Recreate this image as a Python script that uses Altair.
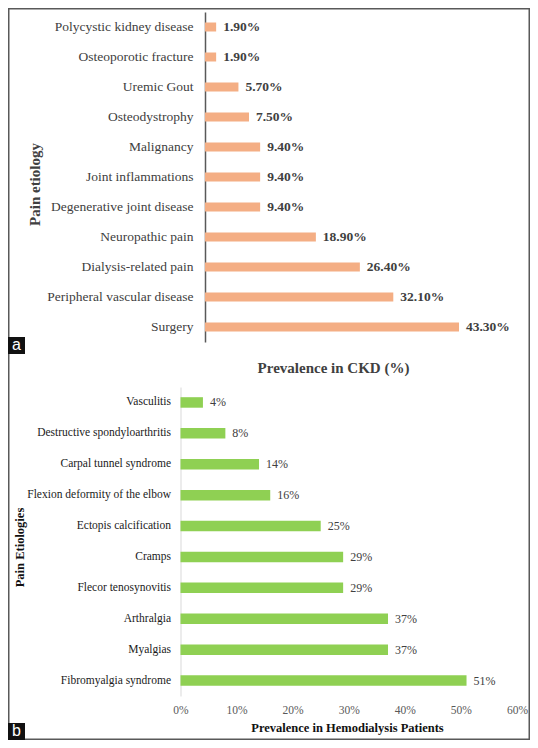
import altair as alt
import pandas as pd

# ---- data ----
ckd_causes = [
    "Polycystic kidney disease", "Osteoporotic fracture", "Uremic Gout",
    "Osteodystrophy", "Malignancy", "Joint inflammations",
    "Degenerative joint disease", "Neuropathic pain", "Dialysis-related pain",
    "Peripheral vascular disease", "Surgery",
]
ckd_values = [1.9, 1.9, 5.7, 7.5, 9.4, 9.4, 9.4, 18.9, 26.4, 32.1, 43.3]

hd_causes = [
    "Vasculitis", "Destructive spondyloarthritis", "Carpal tunnel syndrome",
    "Flexion deformity of the elbow", "Ectopis calcification", "Cramps",
    "Flecor tenosynovitis", "Arthralgia", "Myalgias", "Fibromyalgia syndrome",
]
hd_values = [4, 8, 14, 16, 25, 29, 29, 37, 37, 51]
hd_ticks = [0, 10, 20, 30, 40, 50, 60]

panel_tags = ["a", "b"]

top_df = pd.DataFrame({"cause": ckd_causes, "value": ckd_values,
                       "label": [f"{v:.2f}%" for v in ckd_values]})
bot_df = pd.DataFrame({"cause": hd_causes, "value": hd_values,
                       "label": [f"{v:.0f}%" for v in hd_values]})

W, H = 522, 732
SERIF = "Liberation Serif"
SANS = "Liberation Sans"

# ---- top panel ----
def top_x():
    return alt.Scale(domain=[0, 50], range=[197, 490.3], nice=False, zero=True)

def top_y():
    return alt.Scale(domain=ckd_causes, range=[4, 334], paddingInner=0.7, paddingOuter=0.35)

top_bars = alt.Chart(top_df).mark_bar(color="#F4AE84").encode(
    x=alt.X("value:Q", scale=top_x(),
            axis=alt.Axis(orient="top", domain=False, ticks=False, labels=False, grid=False,
                          title="Prevalence in CKD (%)", titleX=325, titleY=359,
                          titleAlign="center", titleBaseline="middle", titleAngle=0,
                          titleFont=SERIF, titleFontSize=15, titleFontWeight="bold",
                          titleColor="#404040")),
    y=alt.Y("cause:N", scale=top_y(), sort=ckd_causes,
            axis=alt.Axis(orient="left", offset=-197, domain=True, domainColor="#595959",
                          domainWidth=1.5, ticks=False, tickSize=0, grid=False,
                          labelPadding=12, labelFont=SERIF, labelFontSize=13.5,
                          labelColor="#404040", labelLimit=300,
                          title="Pain etiology", titleX=-171, titleY=176, titleAngle=270,
                          titleAlign="center", titleBaseline="middle",
                          titleFont=SERIF, titleFontSize=15, titleFontWeight="bold",
                          titleColor="#404040")),
)
top_text = alt.Chart(top_df).mark_text(
    align="left", baseline="middle", dx=7, font=SERIF, fontSize=13.5,
    fontWeight="bold", color="#404040"
).encode(
    x=alt.X("value:Q", scale=top_x(), axis=None),
    y=alt.Y("cause:N", scale=top_y(), sort=ckd_causes, axis=None),
    text="label:N",
)

# ---- bottom panel ----
def bot_x():
    return alt.Scale(domain=[0, 60], range=[172.5, 509], nice=False, zero=True)

def bot_y():
    return alt.Scale(domain=hd_causes, range=[379, 688], paddingInner=0.66, paddingOuter=0.33)

bot_bars = alt.Chart(bot_df).mark_bar(color="#8FD053").encode(
    x=alt.X("value:Q", scale=bot_x(),
            axis=alt.Axis(orient="bottom", offset=-44, values=hd_ticks,
                          labelExpr="datum.value + '%'", domain=False, ticks=False,
                          grid=False, labelFlush=False, labelPadding=8,
                          labelFont=SERIF, labelFontSize=11.5, labelColor="#595959",
                          title="Prevalence in Hemodialysis Patients", titleX=339, titleY=31,
                          titleAlign="center", titleBaseline="middle", titleAngle=0,
                          titleFont=SERIF, titleFontSize=12.5, titleFontWeight="bold",
                          titleColor="#111111")),
    y=alt.Y("cause:N", scale=bot_y(), sort=hd_causes,
            axis=alt.Axis(orient="left", offset=-172.5, domain=True, domainColor="#D9D9D9",
                          domainWidth=1, ticks=False, tickSize=0, grid=False,
                          labelPadding=10, labelFont=SERIF, labelFontSize=11.5,
                          labelColor="#1a1a1a", labelLimit=300,
                          title="Pain Etiologies", titleX=-161.5, titleY=539, titleAngle=270,
                          titleAlign="center", titleBaseline="middle",
                          titleFont=SERIF, titleFontSize=12.5, titleFontWeight="bold",
                          titleColor="#111111")),
)
bot_text = alt.Chart(bot_df).mark_text(
    align="left", baseline="middle", dx=7, font=SERIF, fontSize=12, color="#404040"
).encode(
    x=alt.X("value:Q", scale=bot_x(), axis=None),
    y=alt.Y("cause:N", scale=bot_y(), sort=hd_causes, axis=None),
    text="label:N",
)

# ---- panel tags "a" / "b" ----
tag_a_df = pd.DataFrame({"t": [panel_tags[0]]})
tag_b_df = pd.DataFrame({"t": [panel_tags[1]]})

tag_a_box = alt.Chart(tag_a_df).mark_rect(color="#111111").encode(
    x=alt.value(0), x2=alt.value(17), y=alt.value(329), y2=alt.value(346))
tag_a_txt = alt.Chart(tag_a_df).mark_text(color="white", font=SANS, fontSize=16,
                                          align="center", baseline="middle").encode(
    x=alt.value(8.5), y=alt.value(337), text="t:N")
tag_b_box = alt.Chart(tag_b_df).mark_rect(color="#111111").encode(
    x=alt.value(0), x2=alt.value(17), y=alt.value(715), y2=alt.value(732))
tag_b_txt = alt.Chart(tag_b_df).mark_text(color="white", font=SANS, fontSize=16,
                                          align="center", baseline="middle").encode(
    x=alt.value(8.5), y=alt.value(723), text="t:N")

chart = alt.layer(
    top_bars, top_text, bot_bars, bot_text, tag_a_box, tag_a_txt, tag_b_box, tag_b_txt
).resolve_scale(
    x="independent", y="independent"
).resolve_axis(
    x="independent", y="independent"
).properties(
    width=W, height=H, padding=0, background="white",
    autosize=alt.AutoSizeParams(type="none"),
).configure_view(
    stroke="#595959", strokeWidth=3
).configure_axis(
    labelFont=SERIF, titleFont=SERIF
).configure_text(
    font=SERIF
)

chart.save("out.html", embed_options={"renderer": "svg", "actions": False})
